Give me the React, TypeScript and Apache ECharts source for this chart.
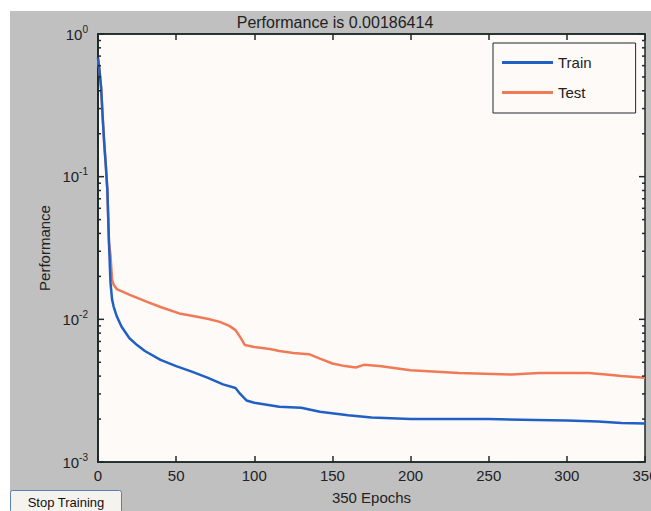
import React, { useEffect, useRef } from "react";
import * as echarts from "echarts";

const trainEpochs = [0, 1, 2, 3, 4, 5, 6, 7, 8, 9, 10, 12, 15, 20, 25, 30, 40, 50, 60, 70, 80, 88, 91, 95, 100, 116, 130, 142, 160, 175, 200, 250, 280, 300, 320, 335, 350];
const trainValues = [0.68, 0.55, 0.42, 0.26, 0.17, 0.12, 0.08, 0.035, 0.018, 0.0138, 0.0123, 0.0105, 0.0089, 0.0074, 0.0066, 0.006, 0.0052, 0.0047, 0.0043, 0.0039, 0.0035, 0.0033, 0.003, 0.0027, 0.0026, 0.00244, 0.0024, 0.00225, 0.00213, 0.00205, 0.002, 0.002, 0.00197, 0.00195, 0.00192, 0.00188, 0.00186];

const testEpochs = [0, 1, 2, 3, 4, 5, 6, 7, 8, 9, 10, 12, 16, 20, 31, 40, 52, 60, 70, 78, 84, 88, 91, 94, 100, 110, 116, 125, 135, 142, 150, 158, 165, 170, 180, 200, 231, 265, 282, 300, 314, 325, 335, 350];
const testValues = [0.68, 0.55, 0.42, 0.26, 0.17, 0.12, 0.08, 0.035, 0.028, 0.019, 0.0175, 0.0163, 0.0156, 0.0149, 0.0133, 0.0122, 0.011, 0.0106, 0.0101, 0.0096, 0.009, 0.0084, 0.0075, 0.0066, 0.0064, 0.0062, 0.006, 0.0058, 0.0057, 0.0053, 0.0049, 0.0047, 0.0046, 0.0048, 0.0047, 0.0044, 0.0042, 0.0041, 0.0042, 0.0042, 0.0042, 0.0041, 0.004, 0.0039];

const xTicks = [0, 50, 100, 150, 200, 250, 300, 350];
const yDecades = [1, 0.1, 0.01, 0.001];
const yExponents = ["0", "-1", "-2", "-3"];
const minorMultipliers = [2, 3, 4, 5, 6, 7, 8, 9];
const minorDecades = [0.001, 0.01, 0.1];

const seriesNames = ["Train", "Test"];
const titleText = "Performance is 0.00186414";

export default function App() {
  const ref = useRef<HTMLDivElement>(null);
  useEffect(() => {
    if (!ref.current) return;
    document.body.style.margin = "0";
    document.body.style.overflow = "hidden";
    document.documentElement.style.overflow = "hidden";
    const chart = echarts.init(ref.current, undefined, { renderer: "svg", width: 651, height: 511 });
    const font = "Liberation Sans";
    const dark = "#1c2a2a";
    const minorData: number[][] = [];
    minorDecades.forEach((d) => minorMultipliers.forEach((m) => minorData.push([0, m * d])));
    const majorData: number[][] = yDecades.map((v) => [0, v]);

    const tickSeries = (data: number[][], len: number, name: string) => ({
      type: "custom",
      name,
      silent: true,
      z: 5,
      data,
      renderItem: (params: any, api: any) => {
        const v = api.value(1);
        const pL = api.coord([0, v]);
        const pR = api.coord([350, v]);
        return {
          type: "group",
          children: [
            { type: "line", shape: { x1: pL[0], y1: pL[1], x2: pL[0] + len, y2: pL[1] }, style: { stroke: dark, lineWidth: 1.5 } },
            { type: "line", shape: { x1: pR[0], y1: pR[1], x2: pR[0] - len, y2: pR[1] }, style: { stroke: dark, lineWidth: 1.5 } },
          ],
        };
      },
    });

    chart.setOption({
      animation: false,
      textStyle: { fontFamily: font },
      graphic: [
        { type: "rect", z: -10, shape: { x: 0, y: 0, width: 651, height: 511 }, style: { fill: "#ffffff" } },
        { type: "rect", z: -9, shape: { x: 10, y: 11, width: 641, height: 500 }, style: { fill: "#c0c0c0" } },
        {
          type: "text",
          x: 335,
          y: 22,
          style: { text: titleText, fontSize: 16, fontFamily: font, fill: "#222", textAlign: "center", textVerticalAlign: "middle" },
        },
        { type: "rect", shape: { x: 10.5, y: 490.5, width: 111, height: 22, r: 2 }, style: { fill: "#f5f3ee", stroke: "#5a80b8", lineWidth: 1 } },
        {
          type: "text",
          x: 66,
          y: 502,
          style: { text: "Stop Training", fontSize: 13, fontFamily: font, fill: "#111", textAlign: "center", textVerticalAlign: "middle" },
        },
      ],
      legend: {
        data: seriesNames,
        orient: "vertical",
        left: 493,
        top: 43,
        padding: [12, 44, 13, 9],
        itemGap: 15,
        itemWidth: 51,
        itemHeight: 3,
        itemTextGap: 5,
        icon: "rect",
        backgroundColor: "#fefaf7",
        borderColor: dark,
        borderWidth: 1,
        textStyle: { fontSize: 15, color: "#222", fontFamily: font },
      },
      grid: {
        left: 98,
        top: 34,
        width: 547,
        height: 428,
        outerBoundsMode: "none",
        containLabel: false,
        show: true,
        backgroundColor: "#fefaf7",
        borderColor: dark,
        borderWidth: 1.5,
      },
      xAxis: [
        {
          type: "value",
          min: 0,
          max: 350,
          interval: 50,
          position: "bottom",
          name: "350 Epochs",
          nameLocation: "middle",
          nameGap: 28,
          nameTextStyle: { fontSize: 15, color: "#222", fontFamily: font },
          axisLine: { show: true, lineStyle: { color: dark, width: 1.5 } },
          axisTick: { show: true, inside: true, length: 6, lineStyle: { color: dark, width: 1.5 } },
          axisLabel: { fontSize: 15, color: "#222", margin: 6, fontFamily: font, customValues: xTicks },
          splitLine: { show: false },
        },
        {
          type: "value",
          min: 0,
          max: 350,
          interval: 50,
          position: "top",
          axisLine: { show: true, lineStyle: { color: dark, width: 1.5 } },
          axisTick: { show: true, inside: true, length: 6, lineStyle: { color: dark, width: 1.5 } },
          axisLabel: { show: false },
          splitLine: { show: false },
        },
      ],
      yAxis: [
        {
          type: "log",
          logBase: 10,
          min: 0.001,
          max: 1,
          position: "left",
          name: "Performance",
          nameLocation: "middle",
          nameGap: 46,
          nameRotate: 90,
          nameTextStyle: { fontSize: 15, color: "#222", fontFamily: font },
          axisLine: { show: true, lineStyle: { color: dark, width: 1.5 } },
          axisTick: { show: false },
          axisLabel: {
            margin: 10,
            formatter: (v: number) => {
              const i = yDecades.findIndex((d) => Math.abs(d - v) / d < 1e-6);
              return i >= 0 ? `{b|10}{s|${yExponents[i]}}` : "";
            },
            rich: {
              b: { fontSize: 15, color: "#222", fontFamily: font },
              s: { fontSize: 10, color: "#222", fontFamily: font, padding: [0, 0, 10, 0] },
            },
          },
          splitLine: { show: false },
        },
        {
          type: "log",
          logBase: 10,
          min: 0.001,
          max: 1,
          position: "right",
          axisLine: { show: true, lineStyle: { color: dark, width: 1.5 } },
          axisTick: { show: false },
          axisLabel: { show: false },
          splitLine: { show: false },
        },
      ],
      series: [
        {
          name: "Train",
          type: "line",
          data: trainEpochs.map((e, i) => [e, trainValues[i]]),
          symbol: "none",
          z: 4,
          itemStyle: { color: "#2060c4" },
          lineStyle: { color: "#2060c4", width: 2.5 },
        },
        {
          name: "Test",
          type: "line",
          data: testEpochs.map((e, i) => [e, testValues[i]]),
          symbol: "none",
          z: 3,
          itemStyle: { color: "#f07a55" },
          lineStyle: { color: "#f07a55", width: 2.5 },
        },
        tickSeries(minorData, 3, "minor"),
        tickSeries(majorData, 6, "major"),
      ],
    });
    return () => chart.dispose();
  }, []);
  return <div ref={ref} style={{ position: "absolute", left: 0, top: 0, width: 651, height: 511 }} />;
}
